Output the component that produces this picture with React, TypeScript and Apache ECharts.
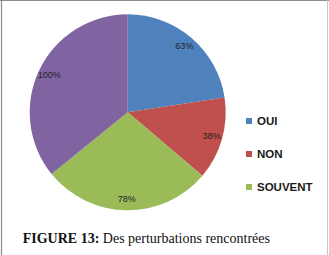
import React, { useEffect, useRef } from "react";
import * as echarts from "echarts";

const categories = ["OUI", "NON", "SOUVENT", ""];
const values = [63, 38, 78, 100];
const valueLabels = ["63%", "38%", "78%", "100%"];
const colors = ["#4F81BD", "#C0504D", "#9BBB59", "#8064A2"];
const legendItems = ["OUI", "NON", "SOUVENT"];

export default function App() {
  const ref = useRef<HTMLDivElement>(null);
  useEffect(() => {
    if (!ref.current) return;
    const chart = echarts.init(ref.current, null, { renderer: "svg" });
    const data = categories.map((c, i) => ({
      name: c,
      value: values[i],
      itemStyle: { color: colors[i] },
    }));
    chart.setOption({
      animation: false,
      backgroundColor: "#ffffff",
      legend: {
        orient: "vertical",
        left: 246,
        top: 114,
        padding: 0,
        itemWidth: 6,
        itemHeight: 6,
        itemGap: 19,
        icon: "rect",
        selectedMode: false,
        data: legendItems,
        textStyle: {
          fontFamily: "Liberation Sans",
          fontSize: 11.5,
          fontWeight: "bold",
          color: "#1a1a1a",
          lineHeight: 14,
        },
      },
      series: [
        {
          type: "pie",
          center: [127.7, 112.3],
          radius: 98,
          startAngle: 90,
          clockwise: true,
          silent: true,
          label: { show: false },
          labelLine: { show: false },
          itemStyle: { borderWidth: 0 },
          data,
        },
        {
          type: "pie",
          center: [127.7, 112.3],
          radius: [70, 98],
          startAngle: 90,
          clockwise: true,
          silent: true,
          legendHoverLink: false,
          itemStyle: { color: "rgba(0,0,0,0)", borderWidth: 0 },
          label: {
            show: true,
            position: "inside",
            fontFamily: "Liberation Sans",
            fontSize: 9,
            color: "#222",
            formatter: (p: any) => valueLabels[p.dataIndex],
          },
          labelLine: { show: false },
          data: categories.map((c, i) => ({
            name: c,
            value: values[i],
            itemStyle: { color: "rgba(0,0,0,0)" },
          })),
        },
      ],
      graphic: [
        {
          type: "line",
          shape: { x1: 0, y1: 0.5, x2: 329, y2: 0.5 },
          style: { stroke: "#8c8c8c", lineWidth: 1.2 },
        },
        {
          type: "line",
          shape: { x1: 1.5, y1: 0, x2: 1.5, y2: 255 },
          style: { stroke: "#8c8c8c", lineWidth: 1.2 },
        },
        {
          type: "line",
          shape: { x1: 327.5, y1: 0, x2: 327.5, y2: 255 },
          style: { stroke: "#c8c8c8", lineWidth: 1 },
        },
        {
          type: "text",
          x: 22.7,
          y: 238,
          style: {
            text: "{b|FIGURE 13:} Des perturbations rencontrées",
            fontFamily: "Liberation Serif",
            fontSize: 14,
            fill: "#111",
            verticalAlign: "middle",
            rich: {
              b: {
                fontFamily: "Liberation Serif",
                fontSize: 14,
                fontWeight: "bold",
                fill: "#111",
              },
            },
          },
        },
      ],
    });
    return () => chart.dispose();
  }, []);
  return (
    <div
      ref={ref}
      style={{ position: "absolute", left: 0, top: 0, width: 329, height: 255 }}
    />
  );
}
